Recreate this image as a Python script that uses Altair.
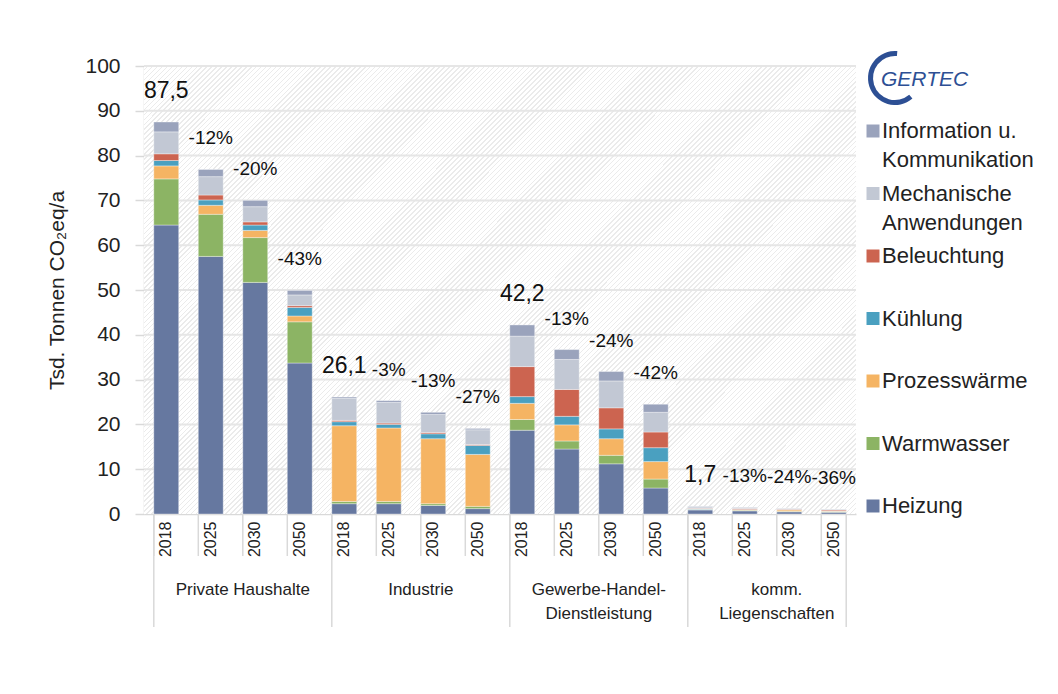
import altair as alt
import pandas as pd

FONT = "Liberation Sans"

groups = ["Private Haushalte", "Industrie", "Gewerbe-Handel-Dienstleistung", "komm. Liegenschaften"]
group_line1 = ["Private Haushalte", "Industrie", "Gewerbe-Handel-", "komm."]
group_line2 = ["", "", "Dienstleistung", "Liegenschaften"]
years = ["2018", "2025", "2030", "2050"]

categories = ["Heizung", "Warmwasser", "Prozesswärme", "Kühlung", "Beleuchtung",
              "Mechanische Anwendungen", "Information u. Kommunikation"]
legend_line1 = ["Heizung", "Warmwasser", "Prozesswärme", "Kühlung", "Beleuchtung",
                "Mechanische", "Information u."]
legend_line2 = ["", "", "", "", "", "Anwendungen", "Kommunikation"]
colors = ["#6678a0", "#8cb464", "#f5b463", "#4aa0c0", "#cc6450", "#c2c8d4", "#9aa3bc"]

# 16 values each: group-major (PH, Ind, GHD, komm), year-minor (2018, 2025, 2030, 2050)
heizung = [64.5, 57.5, 51.7, 33.7, 2.3, 2.3, 1.9, 1.2, 18.7, 14.5, 11.2, 5.8, 0.9, 0.7, 0.5, 0.4]
warmwasser = [10.3, 9.4, 10.0, 9.2, 0.5, 0.5, 0.4, 0.5, 2.4, 1.8, 1.9, 2.0, 0.1, 0.15, 0.1, 0.1]
prozess = [2.9, 2.0, 1.6, 1.3, 16.9, 16.4, 14.5, 11.6, 3.6, 3.6, 3.7, 3.9, 0.05, 0.1, 0.3, 0.15]
kuehlung = [1.2, 1.2, 1.2, 1.9, 0.9, 0.8, 1.1, 2.0, 1.5, 1.9, 2.2, 3.1, 0.15, 0.05, 0.1, 0.05]
beleuchtung = [1.5, 1.1, 0.7, 0.4, 0.3, 0.3, 0.3, 0.2, 6.7, 6.0, 4.7, 3.5, 0.1, 0.2, 0.1, 0.2]
mechanisch = [4.9, 4.1, 3.4, 2.4, 4.9, 4.6, 4.0, 3.3, 6.8, 6.7, 6.0, 4.4, 0.3, 0.2, 0.15, 0.15]
information = [2.2, 1.6, 1.4, 1.0, 0.3, 0.4, 0.5, 0.3, 2.5, 2.2, 2.1, 1.8, 0.1, 0.1, 0.05, 0.05]

bar_labels = ["87,5", "-12%", "-20%", "-43%",
              "26,1", "-3%", "-13%", "-27%",
              "42,2", "-13%", "-24%", "-42%",
              "1,7", "-13%", "-24%", "-36%"]

grid_values = [10, 20, 30, 40, 50, 60, 70, 80, 90, 100]

series = [heizung, warmwasser, prozess, kuehlung, beleuchtung, mechanisch, information]
keys = [f"{g}|{y}" for g in groups for y in years]

rows = []
for ci, (cat, vals) in enumerate(zip(categories, series)):
    for k, v in zip(keys, vals):
        rows.append({"key": k, "category": cat, "ord": ci, "value": v})
df = pd.DataFrame(rows)

tot = df.groupby("key", sort=False)["value"].sum().reindex(keys).reset_index()
tot.columns = ["key", "total"]
tot["label"] = bar_labels
tot["first"] = [i % 4 == 0 for i in range(16)]

W, H = 712, 448

xscale = alt.Scale(domain=keys, paddingInner=0.44, paddingOuter=0.22)
yscale = alt.Scale(domain=[0, 100])
xaxis = alt.Axis(title=None, labelExpr="split(datum.value, '|')[1]", labelAngle=270,
                 labelFontSize=16, labelPadding=7, ticks=False, domainColor="#d9d9d9",
                 domainWidth=1.5, labelColor="#222", labelFont=FONT)
yaxis = alt.Axis(title="Tsd. Tonnen CO₂eq/a", values=[0, 10, 20, 30, 40, 50, 60, 70, 80, 90, 100],
                 grid=False, tickSize=9, tickColor="#d9d9d9", tickWidth=1.5,
                 domainColor="#d9d9d9", domainWidth=1.5, labelFontSize=21, labelPadding=15,
                 labelColor="#222", titleFontSize=21, titleFontWeight="normal",
                 titleColor="#222", titlePadding=17, labelFont=FONT, titleFont=FONT)

X = alt.X("key:N", scale=xscale, sort=keys, axis=xaxis)

# hatch background
N = 234
stops = []
for i in range(N):
    t0 = round(i / N, 6)
    t1 = round((i + 0.7) / N, 6)
    t2 = round((i + 1) / N, 6)
    stops += [{"offset": t0, "color": "#ffffff"}, {"offset": t1, "color": "#ffffff"},
              {"offset": t1, "color": "#ebebeb"}, {"offset": t2, "color": "#ebebeb"}]
hatch_fill = {"gradient": "linear", "x1": 0, "y1": 0, "x2": 1.167, "y2": 0.734, "stops": stops}

hatch = alt.Chart(pd.DataFrame({"a": [0]})).mark_rect(fill=hatch_fill).encode(
    x=alt.value(0), x2=alt.value(W), y=alt.value(0), y2=alt.value(H))

grid = alt.Chart(pd.DataFrame({"g": grid_values})).mark_rule(color="#e6e6e6", strokeWidth=2).encode(
    y=alt.Y("g:Q", scale=yscale, axis=yaxis))

bars = alt.Chart(df).mark_bar(stroke="#ffffff", strokeWidth=0.6, strokeOpacity=0.6).encode(
    x=X,
    y=alt.Y("value:Q", scale=yscale, stack="zero", axis=yaxis),
    color=alt.Color("category:N", scale=alt.Scale(domain=categories, range=colors), legend=None),
    order=alt.Order("ord:Q", sort="ascending"),
)

sep = alt.Chart(pd.DataFrame({"key": keys})).mark_rule(color="#d9d9d9", strokeWidth=1.5).encode(
    x=alt.X("key:N", scale=xscale, sort=keys, axis=xaxis, bandPosition=0),
    y=alt.value(H), y2=alt.value(H + 42))

gstart = pd.DataFrame({"key": [f"{g}|2018" for g in groups]})
gsep = alt.Chart(gstart).mark_rule(color="#d9d9d9", strokeWidth=1.5).encode(
    x=alt.X("key:N", scale=xscale, sort=keys, axis=xaxis, bandPosition=0),
    y=alt.value(H), y2=alt.value(H + 113))
gend = alt.Chart(pd.DataFrame({"key": [keys[-1]]})).mark_rule(color="#d9d9d9", strokeWidth=1.5).encode(
    x=alt.X("key:N", scale=xscale, sort=keys, axis=xaxis, bandPosition=1),
    y=alt.value(H), y2=alt.value(H + 113))

gl = pd.DataFrame({"key": [f"{g}|2030" for g in groups], "l1": group_line1, "l2": group_line2})
glab1 = alt.Chart(gl).mark_text(fontSize=17, font=FONT, color="#222", baseline="middle").encode(
    x=alt.X("key:N", scale=xscale, sort=keys, axis=xaxis, bandPosition=0),
    y=alt.value(H + 76), text="l1:N")
glab2 = alt.Chart(gl).mark_text(fontSize=17, font=FONT, color="#222", baseline="middle").encode(
    x=alt.X("key:N", scale=xscale, sort=keys, axis=xaxis, bandPosition=0),
    y=alt.value(H + 100), text="l2:N")

tot_first = alt.Chart(tot).transform_filter("datum.first").mark_text(
    fontSize=23, font=FONT, color="#111", baseline="middle", dy=-31).encode(
    x=X, y=alt.Y("total:Q", scale=yscale, axis=yaxis), text="label:N")
tot_pct = alt.Chart(tot).transform_filter("!datum.first").mark_text(
    fontSize=19, font=FONT, color="#111", baseline="middle", dy=-31).encode(
    x=X, y=alt.Y("total:Q", scale=yscale, axis=yaxis), text="label:N")

main = alt.layer(hatch, grid, bars, sep, gsep, gend, glab1, glab2, tot_first, tot_pct).properties(
    width=W, height=H, view=alt.ViewBackground(stroke=None))

# legend panel
leg = pd.DataFrame({"category": categories, "rank": list(range(7)),
                    "l1": legend_line1, "l2": legend_line2})
yleg = alt.Y("rank:Q", scale=alt.Scale(domain=[-0.128, 7.04]), axis=None)
sq = alt.Chart(leg).mark_square(size=169, opacity=1).encode(
    x=alt.value(16), y=yleg,
    color=alt.Color("category:N", scale=alt.Scale(domain=categories, range=colors), legend=None))
lt1 = alt.Chart(leg).mark_text(align="left", baseline="middle", fontSize=22, font=FONT, color="#222").encode(
    x=alt.value(25), y=yleg, text="l1:N")
lt2 = alt.Chart(leg).mark_text(align="left", baseline="middle", fontSize=22, font=FONT, color="#222", dy=29).encode(
    x=alt.value(25), y=yleg, text="l2:N")
logo_t = alt.Chart(pd.DataFrame({"t": ["GERTEC"]})).mark_text(
    align="left", baseline="middle", fontSize=21, font=FONT, fontStyle="italic", color="#2d4f94").encode(
    x=alt.value(24), y=alt.value(14), text="t:N")
logo_c = alt.Chart(pd.DataFrame({"t": ["C"]})).mark_arc(
    color="#2d4f94", theta=2.44, theta2=6.37, radius=27, radius2=22).encode(
    x=alt.value(38), y=alt.value(12))

legend_panel = alt.layer(logo_c, logo_t, sq, lt1, lt2).properties(
    width=170, height=H, view=alt.ViewBackground(stroke=None))

chart = alt.hconcat(main, legend_panel, spacing=0).resolve_scale(
    x="independent", y="independent").properties(
    padding={"left": 38, "top": 43, "right": 0, "bottom": 5}
).configure(font=FONT)

chart.save("out.html", embed_options={"renderer": "svg", "actions": False})
